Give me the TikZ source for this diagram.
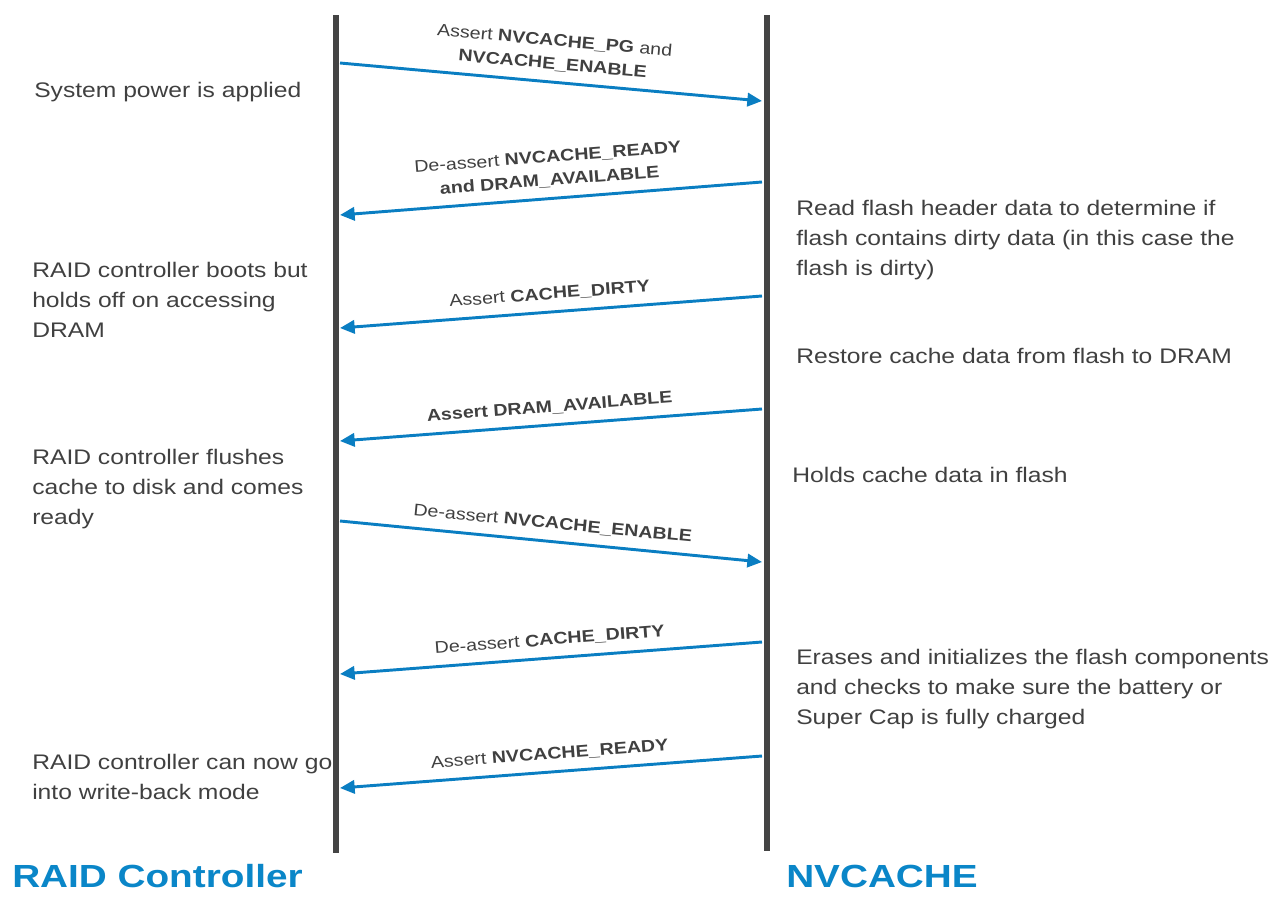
\documentclass[tikz,border=0pt]{standalone}
\usepackage{fontspec}
\setmainfont{Liberation Sans}[FakeStretch=1.17]
\newfontfamily\titlefont{Liberation Sans}[FakeStretch=1.21]
\usetikzlibrary{arrows.meta}
\definecolor{txtgray}{HTML}{404040}
\definecolor{lifegray}{HTML}{444444}
\definecolor{msgblue}{HTML}{0A7EC2}
\definecolor{titleblue}{HTML}{0A86C8}
\tikzset{
  lifeline/.style={draw=lifegray, line width=5.2pt},
  msg/.style={draw=msgblue, line width=2.2pt, arrows={-{Triangle[length=11pt,width=10pt]}}},
  msgback/.style={draw=msgblue, line width=2.2pt, arrows={{Triangle[length=11pt,width=10pt]}-}},
  lbl/.style={sloped, above=7pt, inner sep=0pt, align=center, text=txtgray,
    font=\fontsize{12.6}{17.5}\selectfont},
  desc/.style={anchor=north west, inner sep=0pt, align=left, text=txtgray,
    font=\fontsize{15.8}{22.5}\selectfont},
  ttl/.style={anchor=base west, inner sep=0pt, text=titleblue,
    font=\titlefont\bfseries\fontsize{24}{28}\selectfont}
}
\begin{document}
\begin{tikzpicture}[x=0.75pt,y=0.75pt]
\useasboundingbox (0,0) rectangle (1284,-896);
% lifelines
\coordinate (Ltop) at (336,-15);
\coordinate (Lbot) at (336,-853);
\coordinate (Rtop) at (767,-15);
\coordinate (Rbot) at (767,-851);
\draw[lifeline] (Ltop) -- (Lbot);
\draw[lifeline] (Rtop) -- (Rbot);
% message end points
\coordinate (L1) at (340,-63);  \coordinate (R1) at (762,-101);
\coordinate (L2) at (340,-215); \coordinate (R2) at (762,-182);
\coordinate (L3) at (340,-328); \coordinate (R3) at (762,-296);
\coordinate (L4) at (340,-441); \coordinate (R4) at (762,-409);
\coordinate (L5) at (340,-521); \coordinate (R5) at (762,-562);
\coordinate (L6) at (340,-674); \coordinate (R6) at (762,-642);
\coordinate (L7) at (340,-788); \coordinate (R7) at (762,-756);
% messages
\draw[msg] (L1) -- node[lbl] (m1) {Assert \textbf{NVCACHE\_PG} and\\\textbf{NVCACHE\_ENABLE}} (R1);
\draw[msgback] (L2) -- node[lbl] (m2) {De-assert \textbf{NVCACHE\_READY}\\\textbf{and DRAM\_AVAILABLE}} (R2);
\draw[msgback] (L3) -- node[lbl] (m3) {Assert \textbf{CACHE\_DIRTY}} (R3);
\draw[msgback] (L4) -- node[lbl] (m4) {\textbf{Assert DRAM\_AVAILABLE}} (R4);
\draw[msg] (L5) -- node[lbl] (m5) {De-assert \textbf{NVCACHE\_ENABLE}} (R5);
\draw[msgback] (L6) -- node[lbl] (m6) {De-assert \textbf{CACHE\_DIRTY}} (R6);
\draw[msgback] (L7) -- node[lbl] (m7) {Assert \textbf{NVCACHE\_READY}} (R7);
% left descriptions
\node[desc] (d1) at (34,-82) {System power is applied};
\node[desc] (d2) at (32,-262) {RAID controller boots but\\holds off on accessing\\DRAM};
\node[desc] (d3) at (32,-449) {RAID controller flushes\\cache to disk and comes\\ready};
\node[desc] (d4) at (32,-754) {RAID controller can now go\\into write-back mode};
% right descriptions
\node[desc] (e1) at (796,-200) {Read flash header data to determine if\\flash contains dirty data (in this case the\\flash is dirty)};
\node[desc] (e2) at (796,-348) {Restore cache data from flash to DRAM};
\node[desc] (e3) at (792,-467) {Holds cache data in flash};
\node[desc] (e4) at (796,-649) {Erases and initializes the flash components\\and checks to make sure the battery or\\Super Cap is fully charged};
% titles
\node[ttl] (t1) at (12,-887) {RAID Controller};
\node[ttl] (t2) at (786,-887) {NVCACHE};
\end{tikzpicture}
\end{document}
